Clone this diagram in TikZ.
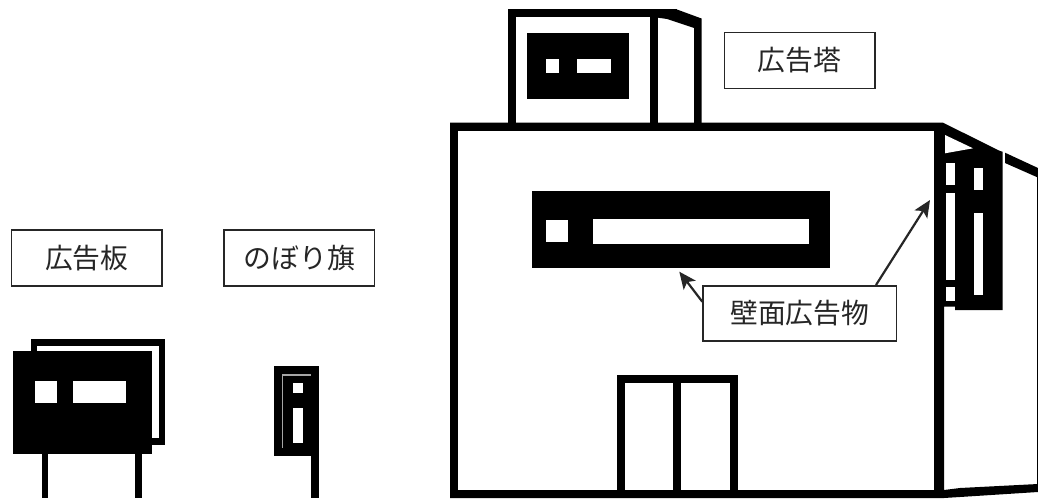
\documentclass[tikz,border=0pt]{standalone}
\usepackage{fontspec}
\setmainfont{Noto Sans CJK JP}[Scale=1]
\usetikzlibrary{arrows.meta}
\tikzset{
  lab/.style={draw=black!85,line width=1.5pt,fill=white,text=black!85,inner sep=0pt,anchor=north west,font=\fontsize{27.8}{30}\selectfont,align=center},
  thick line/.style={line width=8pt,line cap=butt,line join=miter},
  solid black/.style={fill=black,draw=none},
  win/.style={fill=white,draw=none},
  arr/.style={draw=black!85,line width=2.2pt,-{Stealth[length=17pt,width=15pt,inset=4pt]}}
}
\begin{document}
\begin{tikzpicture}[x=1pt,y=-1pt]
\useasboundingbox (0,0) rectangle (1038,498);
% tower
\draw[thick line] (511.5,126) -- (511.5,13) -- (677,13);
\fill (677,9.5) -- (701.5,18.5) -- (701.5,126) -- (694,126) -- (694,28) -- (667,19) -- (653,17) -- (653,9.5) -- cycle;
\draw[thick line] (653.5,13) -- (653.5,126);
\fill[solid black] (527,32.5) rectangle (629,99);
\fill[win] (545.7,59) rectangle (559.3,73);
\fill[win] (577,59) rectangle (611,73);
% building
\fill (450,122.7) -- (943,122.7) -- (1000,151) -- (1002.7,151.7) -- (1002.7,310) -- (955,310) -- (955,306.7) -- (944,306.7) -- (944,498) -- (450,498) -- cycle;
\fill[white] (457.7,130.7) rectangle (934,490);
% wall sign windows
\fill[win] (945,135) -- (973,148.3) -- (955,151.5) -- (945,153.3) -- cycle;
\fill[win] (946,163.3) rectangle (955,185);
\fill[win] (946,193.3) rectangle (955,280);
\fill[win] (946,287.3) rectangle (955,300.7);
\fill[win] (974.3,168.3) rectangle (983.3,190);
\fill[win] (974.3,213.3) rectangle (983.3,295);
% side of the building
\fill (1005,152.7) -- (1038,168) -- (1038,177) -- (1036.7,177) -- (1005,163) -- cycle;
\fill (1036.7,176) rectangle (1038,485);
\fill (944,490) -- (960,488) -- (1038,484) -- (1038,492) -- (960,497) -- (944,498) -- cycle;
% wall sign
\fill[solid black] (532,190.5) rectangle (830,268);
\fill[win] (545.5,220) rectangle (567.5,242);
\fill[win] (592.5,218.5) rectangle (808.5,243.5);
% door
\draw[thick line] (620.5,490) -- (620.5,378.5) -- (734,378.5) -- (734,490);
\draw[thick line] (677,378.5) -- (677,490);
% billboard
\fill (30.7,339) rectangle (165,445);
\fill[white] (36.7,346) rectangle (159.3,438);
\fill[solid black] (13.3,350.7) rectangle (151.7,454.3);
\fill[win] (34.7,380.7) rectangle (56.7,402.7);
\fill[win] (73.3,380.7) rectangle (125.7,402.7);
\fill (41.7,454) rectangle (47.7,498);
\fill (135.3,454) rectangle (141.7,498);
% flag
\fill[solid black] (274.3,366) rectangle (319.3,456);
\fill (311,456) rectangle (319.3,498);
\draw[black!35,line width=1.5pt] (282.7,448) -- (282.7,375) -- (311,375);
\fill[win] (292.7,382.7) rectangle (303.3,392.7);
\fill[win] (292.7,407.7) rectangle (303.3,442.7);
% labels
\node[lab,minimum width=150.6pt,minimum height=56pt] (tower) at (723.6,31.7) {広告塔};
\node[lab,minimum width=150.6pt,minimum height=56pt] (board) at (10.7,229.3) {広告板};
\node[lab,minimum width=150.4pt,minimum height=56pt] (flag) at (223.3,229.3) {のぼり旗};
\node[lab,minimum width=193.4pt,minimum height=55pt] (wall) at (702.3,285) {壁面広告物};
\coordinate (t1) at (679.3,271.7);
\coordinate (t2) at (930,200);
\coordinate (s1) at (702.3,301.7);
\coordinate (s2) at (876,285);
\draw[arr] (s1) -- (t1);
\draw[arr] (s2) -- (t2);
\end{tikzpicture}
\end{document}
